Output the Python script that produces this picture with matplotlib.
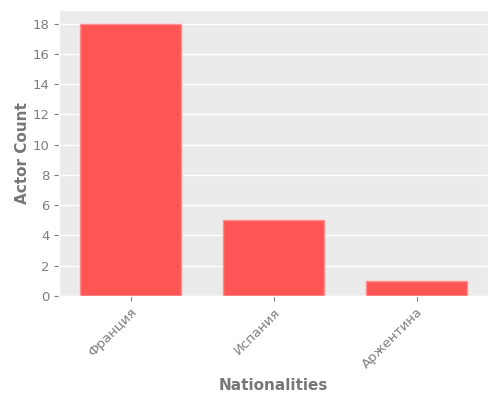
import matplotlib
matplotlib.use("Agg")
import matplotlib.pyplot as plt

nationalities = ["Франция", "Испания", "Аржентина"]
actor_counts = [18, 5, 1]

plt.style.use("ggplot")

fig, ax = plt.subplots(figsize=(5, 4), dpi=100)
ax.set_facecolor("#EBEBEB")
ax.bar(nationalities, actor_counts, width=0.7, color="#FF5555", edgecolor="#FF8F8F", linewidth=1)

ax.set_xlim(-0.5, 2.5)
ax.grid(axis="x", visible=False)
ax.grid(axis="y", color="white", linewidth=1)
ax.set_yticks(range(0, 19, 2))
ax.tick_params(axis="x", labelrotation=45, labelsize=9.5, colors="#7F7F7F")
ax.tick_params(axis="y", labelsize=9.5, colors="#7F7F7F")
for lbl in ax.get_xticklabels():
    lbl.set_ha("right")
    lbl.set_rotation_mode("anchor")

ax.set_xlabel("Nationalities", fontsize=11, fontweight="bold", color="#777777", labelpad=5)
ax.set_ylabel("Actor Count", fontsize=11, fontweight="bold", color="#777777", labelpad=1.5)

plt.subplots_adjust(left=0.118, right=0.976, top=0.975, bottom=0.26)
fig.savefig("out.png")
